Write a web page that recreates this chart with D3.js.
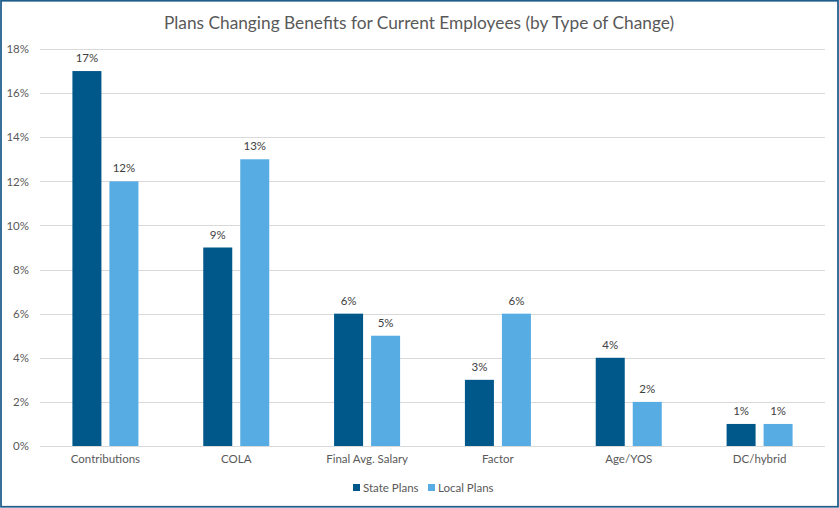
<!DOCTYPE html>
<html><head><meta charset="utf-8">
<script src="https://cdn.jsdelivr.net/npm/d3@7"></script>
<style>body{margin:0;background:#fff}svg{display:block}</style>
</head><body>
<svg id="c" width="839" height="508"></svg>
<script>
const categories = ["Contributions","COLA","Final Avg. Salary","Factor","Age/YOS","DC/hybrid"];
const seriesNames = ["State Plans","Local Plans"];
const stateValues = [17, 9, 6, 3, 4, 1];
const localValues = [12, 13, 5, 6, 2, 1];
const yTicks = [0,2,4,6,8,10,12,14,16,18];
const colors = ["#00588A","#57ADE3"];
const chartTitle = "Plans Changing Benefits for Current Employees (by Type of Change)";

(function(){
const svg = d3.select("#c");
const W = 839, H = 508;
const font = "Lato, 'Open Sans', sans-serif";
svg.append("rect").attr("x",1).attr("y",0.75).attr("width",W-2).attr("height",H-2)
  .attr("fill","#fff").attr("stroke","#1E5D8C").attr("stroke-width",1.75);

const pLeft = 40, pRight = 825, pTop = 49, pBottom = 446;
const x0 = d3.scaleBand().domain(categories).range([pLeft,pRight]).paddingInner(0.4955).paddingOuter(0.4955/2);
const x1 = d3.scaleBand().domain(seriesNames).range([0,x0.bandwidth()]).paddingInner(8/37);
const y = d3.scaleLinear().domain([0,18]).range([pBottom,pTop]);

svg.append("g").selectAll("line").data(yTicks).join("line")
  .attr("x1",pLeft).attr("x2",pRight)
  .attr("y1",d=>Math.round(y(d))+0.5).attr("y2",d=>Math.round(y(d))+0.5)
  .attr("stroke","#D9D9D9").attr("stroke-width",1);

const yAxis = d3.axisLeft(y).tickValues(yTicks).tickFormat(d=>d+"%").tickSize(0).tickPadding(0);
const yg = svg.append("g").attr("transform",`translate(${29},0)`).call(yAxis);
yg.select(".domain").remove();
yg.selectAll("text").attr("font-family",font).attr("font-size",11.5).attr("fill","#595959");

const xAxis = d3.axisBottom(x0).tickSize(0).tickPadding(0);
const xg = svg.append("g").attr("transform",`translate(0,${pBottom+9})`).call(xAxis);
xg.select(".domain").remove();
xg.selectAll("text").attr("font-family",font).attr("font-size",11.5).attr("fill","#595959");

const data = categories.map((c,i)=>({cat:c, vals:[
  {s:seriesNames[0], v:stateValues[i], c:colors[0]},
  {s:seriesNames[1], v:localValues[i], c:colors[1]}]}));

const g = svg.append("g").selectAll("g").data(data).join("g")
  .attr("transform",d=>`translate(${x0(d.cat)},0)`);
g.selectAll("rect").data(d=>d.vals).join("rect")
  .attr("x",d=>x1(d.s)).attr("width",x1.bandwidth())
  .attr("y",d=>y(d.v)).attr("height",d=>pBottom-y(d.v))
  .attr("fill",d=>d.c);
g.selectAll("text").data(d=>d.vals).join("text")
  .attr("x",d=>x1(d.s)+x1.bandwidth()/2).attr("y",d=>y(d.v)-9)
  .attr("text-anchor","middle").attr("font-family",font).attr("font-size",11.5).attr("fill","#404040")
  .text(d=>d.v+"%");

svg.append("text").attr("x",419).attr("y",29).attr("text-anchor","middle")
  .attr("font-family",font).attr("font-size",17.3).attr("fill","#595959").text(chartTitle);

const legend = svg.append("g").attr("transform","translate(0,488)");
const lx = [353, 428];
seriesNames.forEach((s,i)=>{
  legend.append("rect").attr("x",lx[i]).attr("y",-4).attr("width",7).attr("height",7).attr("fill",colors[i]);
  legend.append("text").attr("x",lx[i]+10).attr("y",4).attr("font-family",font).attr("font-size",11.5)
    .attr("fill","#595959").text(s);
});
})();
</script>
</body></html>
